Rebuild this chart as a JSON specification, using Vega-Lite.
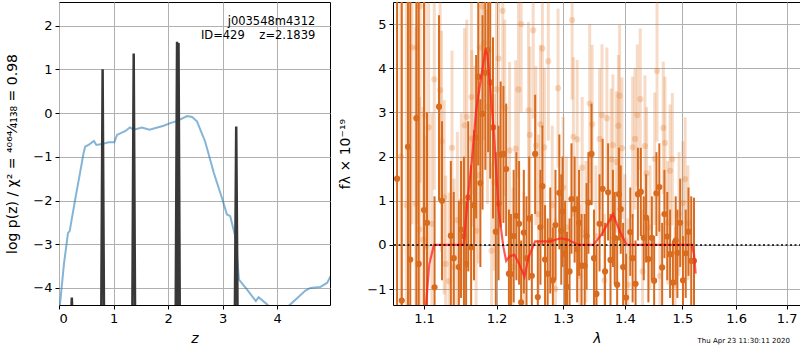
{
  "$schema": "https://vega.github.io/schema/vega-lite/v6.json",
  "padding": {"left": 5, "top": 1, "right": 0, "bottom": 0},
  "spacing": 7,
  "config": {
    "font": "DejaVu Sans",
    "view": {"stroke": "black", "strokeWidth": 1},
    "axis": {"domain": false, "grid": true, "gridColor": "#b0b0b0", "gridWidth": 1, "tickColor": "black", "tickSize": 4, "tickWidth": 1, "labelColor": "black", "labelFontSize": 13, "labelPadding": 3, "titleColor": "black", "titleFontSize": 14, "titleFontWeight": "normal"}
  },
  "datasets": {
    "chi": [
      {"z": 0.0, "v": -4.6}, {"z": 0.02, "v": -4.35}, {"z": 0.09, "v": -3.46}, {"z": 0.165, "v": -2.74}, {"z": 0.196, "v": -2.7},
      {"z": 0.3, "v": -1.95}, {"z": 0.39, "v": -1.34}, {"z": 0.45, "v": -0.92}, {"z": 0.48, "v": -0.77}, {"z": 0.55, "v": -0.72},
      {"z": 0.64, "v": -0.64}, {"z": 0.685, "v": -0.73}, {"z": 0.79, "v": -0.71}, {"z": 0.91, "v": -0.67}, {"z": 1.015, "v": -0.67},
      {"z": 1.064, "v": -0.5}, {"z": 1.22, "v": -0.41}, {"z": 1.3, "v": -0.33}, {"z": 1.37, "v": -0.38}, {"z": 1.52, "v": -0.33},
      {"z": 1.66, "v": -0.38}, {"z": 1.92, "v": -0.29}, {"z": 2.04, "v": -0.23}, {"z": 2.17, "v": -0.18}, {"z": 2.35, "v": -0.07},
      {"z": 2.44, "v": -0.09}, {"z": 2.53, "v": -0.19}, {"z": 2.68, "v": -0.65}, {"z": 2.84, "v": -1.37}, {"z": 2.99, "v": -1.95},
      {"z": 3.08, "v": -2.32}, {"z": 3.14, "v": -2.36}, {"z": 3.24, "v": -2.86}, {"z": 3.3, "v": -3.81}, {"z": 3.45, "v": -4.04},
      {"z": 3.61, "v": -4.3}, {"z": 3.66, "v": -4.21}, {"z": 3.82, "v": -4.38}, {"z": 4.0, "v": -4.65}, {"z": 4.24, "v": -4.38},
      {"z": 4.52, "v": -4.06}, {"z": 4.61, "v": -4.0}, {"z": 4.79, "v": -3.98}, {"z": 4.92, "v": -3.88}, {"z": 4.98, "v": -3.73}
    ],
    "spikes": [
      {"id": "a", "z": 0.225, "v": -4.6}, {"id": "a", "z": 0.235, "v": -4.22}, {"id": "a", "z": 0.245, "v": -4.6},
      {"id": "b", "z": 0.775, "v": -4.6}, {"id": "b", "z": 0.8, "v": 1.0}, {"id": "b", "z": 0.825, "v": -4.6},
      {"id": "c", "z": 1.345, "v": -4.6}, {"id": "c", "z": 1.37, "v": 1.36}, {"id": "c", "z": 1.395, "v": -4.6},
      {"id": "d", "z": 2.14, "v": -4.6}, {"id": "d", "z": 2.165, "v": 1.63}, {"id": "d", "z": 2.19, "v": -4.6},
      {"id": "e", "z": 2.17, "v": -4.6}, {"id": "e", "z": 2.192, "v": 1.6}, {"id": "e", "z": 2.215, "v": -4.6},
      {"id": "f", "z": 3.225, "v": -4.6}, {"id": "f", "z": 3.25, "v": -0.31}, {"id": "f", "z": 3.275, "v": -4.6}
    ],
    "ann": [
      {"z": 4.7, "v": 2.09, "t": "j003548m4312"},
      {"z": 4.7, "v": 1.77, "t": "ID=429\u00a0\u00a0\u00a0\u00a0z=2.1839"}
    ],
    "dark": [
      {"lam": 1.065, "f": 1.5, "lo": -6, "hi": 9}, {"lam": 1.071, "f": -1.26, "lo": -6, "hi": 9}, {"lam": 1.079, "f": 2.22, "lo": -6, "hi": 9},
      {"lam": 1.082, "f": -0.33, "lo": -6, "hi": 9}, {"lam": 1.09, "f": 2.87, "lo": -6, "hi": 9}, {"lam": 1.093, "f": -0.43, "lo": -4, "hi": 6},
      {"lam": 1.1, "f": 0.79, "lo": -4, "hi": 6}, {"lam": 1.104, "f": 0.5, "lo": -2, "hi": 3}, {"lam": 1.114, "f": -0.96, "lo": -2.2, "hi": 1.1},
      {"lam": 1.12, "f": 3.13, "lo": 1.0, "hi": 5.2}, {"lam": 1.124, "f": 1.0, "lo": -0.8, "hi": 2.8}, {"lam": 1.136, "f": 0.21, "lo": -1.5, "hi": 1.9},
      {"lam": 1.14, "f": -0.3, "lo": -1.8, "hi": 1.2}, {"lam": 1.147, "f": -0.5, "lo": -2.0, "hi": 1.0}, {"lam": 1.15, "f": 0.35, "lo": -1.2, "hi": 1.9},
      {"lam": 1.154, "f": 0.2, "lo": -1.4, "hi": 2.0}, {"lam": 1.157, "f": -0.43, "lo": -1.9, "hi": 1.0}, {"lam": 1.16, "f": 1.08, "lo": -0.6, "hi": 2.8},
      {"lam": 1.164, "f": -0.05, "lo": -1.9, "hi": 1.8}, {"lam": 1.168, "f": 0.9, "lo": -0.8, "hi": 2.6}, {"lam": 1.171, "f": 2.43, "lo": 0.6, "hi": 4.3},
      {"lam": 1.174, "f": 3.81, "lo": 1.8, "hi": 5.8}, {"lam": 1.177, "f": 1.4, "lo": -0.5, "hi": 3.3}, {"lam": 1.18, "f": 2.97, "lo": 0.8, "hi": 5.2},
      {"lam": 1.184, "f": 3.9, "lo": 1.7, "hi": 6.1}, {"lam": 1.188, "f": 4.41, "lo": 2.1, "hi": 6.7}, {"lam": 1.191, "f": 3.68, "lo": 1.5, "hi": 5.9},
      {"lam": 1.195, "f": 2.66, "lo": 0.6, "hi": 4.7}, {"lam": 1.199, "f": 0.3, "lo": -1.5, "hi": 2.1}, {"lam": 1.203, "f": 0.94, "lo": -0.8, "hi": 2.7},
      {"lam": 1.206, "f": 2.04, "lo": 0.4, "hi": 3.7}, {"lam": 1.21, "f": 2.06, "lo": 0.5, "hi": 3.6}, {"lam": 1.214, "f": 1.72, "lo": 0.2, "hi": 3.2},
      {"lam": 1.218, "f": -0.65, "lo": -2.1, "hi": 0.8}, {"lam": 1.221, "f": -0.66, "lo": -2.0, "hi": 0.7}, {"lam": 1.225, "f": 0.2, "lo": -1.3, "hi": 1.7},
      {"lam": 1.229, "f": 0.66, "lo": -0.8, "hi": 2.1}, {"lam": 1.233, "f": 0.48, "lo": -0.9, "hi": 1.9}, {"lam": 1.236, "f": -1.3, "lo": -2.7, "hi": 0.1},
      {"lam": 1.24, "f": 0.28, "lo": -1.1, "hi": 1.7}, {"lam": 1.244, "f": -0.3, "lo": -1.7, "hi": 1.1}, {"lam": 1.248, "f": 0.6, "lo": -0.8, "hi": 2.0},
      {"lam": 1.252, "f": -0.7, "lo": -2.1, "hi": 0.7}, {"lam": 1.257, "f": 2.06, "lo": 0.7, "hi": 3.4}, {"lam": 1.261, "f": -1.18, "lo": -2.5, "hi": 0.1},
      {"lam": 1.265, "f": 0.4, "lo": -0.9, "hi": 1.7}, {"lam": 1.268, "f": 1.33, "lo": 0.0, "hi": 2.7}, {"lam": 1.272, "f": -0.33, "lo": -1.6, "hi": 0.9},
      {"lam": 1.276, "f": -0.65, "lo": -1.9, "hi": 0.6}, {"lam": 1.28, "f": 0.1, "lo": -1.1, "hi": 1.3}, {"lam": 1.284, "f": -0.8, "lo": -2.0, "hi": 0.4},
      {"lam": 1.288, "f": 0.45, "lo": -0.8, "hi": 1.7}, {"lam": 1.294, "f": 1.18, "lo": -0.1, "hi": 2.5}, {"lam": 1.297, "f": 0.32, "lo": -0.9, "hi": 1.6},
      {"lam": 1.299, "f": 0.76, "lo": -0.5, "hi": 2.0}, {"lam": 1.303, "f": -0.2, "lo": -1.4, "hi": 1.0}, {"lam": 1.306, "f": -0.95, "lo": -2.2, "hi": 0.3},
      {"lam": 1.31, "f": -0.6, "lo": -1.8, "hi": 0.6}, {"lam": 1.313, "f": 1.04, "lo": -0.2, "hi": 2.3}, {"lam": 1.318, "f": 0.81, "lo": -0.4, "hi": 2.0},
      {"lam": 1.322, "f": -0.1, "lo": -1.3, "hi": 1.1}, {"lam": 1.325, "f": 0.5, "lo": -0.7, "hi": 1.7}, {"lam": 1.329, "f": -0.47, "lo": -1.6, "hi": 0.7},
      {"lam": 1.334, "f": -0.47, "lo": -1.6, "hi": 0.7}, {"lam": 1.337, "f": 0.2, "lo": -1.0, "hi": 1.4}, {"lam": 1.34, "f": 0.96, "lo": -0.2, "hi": 2.1},
      {"lam": 1.345, "f": 2.06, "lo": 0.9, "hi": 3.2}, {"lam": 1.349, "f": -0.3, "lo": -1.4, "hi": 0.8}, {"lam": 1.353, "f": -1.11, "lo": -2.2, "hi": 0.0},
      {"lam": 1.358, "f": 0.48, "lo": -0.6, "hi": 1.6}, {"lam": 1.363, "f": 1.27, "lo": 0.2, "hi": 2.4}, {"lam": 1.367, "f": -0.6, "lo": -1.7, "hi": 0.5},
      {"lam": 1.372, "f": 1.19, "lo": 0.1, "hi": 2.3}, {"lam": 1.376, "f": -0.34, "lo": -1.4, "hi": 0.7}, {"lam": 1.38, "f": 0.6, "lo": -0.5, "hi": 1.7},
      {"lam": 1.383, "f": 0.16, "lo": -0.9, "hi": 1.2}, {"lam": 1.387, "f": -0.9, "lo": -2.0, "hi": 0.2}, {"lam": 1.39, "f": 1.15, "lo": 0.1, "hi": 2.2},
      {"lam": 1.393, "f": 0.81, "lo": -0.2, "hi": 1.8}, {"lam": 1.397, "f": -0.5, "lo": -1.5, "hi": 0.5}, {"lam": 1.402, "f": -1.19, "lo": -2.2, "hi": -0.2},
      {"lam": 1.409, "f": 0.29, "lo": -0.7, "hi": 1.3}, {"lam": 1.413, "f": -0.3, "lo": -1.3, "hi": 0.7}, {"lam": 1.418, "f": -0.88, "lo": -1.9, "hi": 0.1},
      {"lam": 1.422, "f": 1.15, "lo": 0.1, "hi": 2.2}, {"lam": 1.427, "f": 1.2, "lo": 0.2, "hi": 2.2}, {"lam": 1.432, "f": 0.16, "lo": -0.8, "hi": 1.1},
      {"lam": 1.436, "f": 0.62, "lo": -0.4, "hi": 1.6}, {"lam": 1.44, "f": -0.32, "lo": -1.3, "hi": 0.6}, {"lam": 1.446, "f": 0.16, "lo": -0.8, "hi": 1.1},
      {"lam": 1.45, "f": -0.81, "lo": -1.8, "hi": 0.2}, {"lam": 1.454, "f": 1.17, "lo": 0.2, "hi": 2.1}, {"lam": 1.459, "f": 1.31, "lo": 0.3, "hi": 2.3},
      {"lam": 1.464, "f": -0.51, "lo": -1.5, "hi": 0.5}, {"lam": 1.468, "f": 0.7, "lo": -0.3, "hi": 1.7}, {"lam": 1.473, "f": 0.19, "lo": -0.8, "hi": 1.2},
      {"lam": 1.478, "f": -0.21, "lo": -1.2, "hi": 0.8}, {"lam": 1.483, "f": -0.85, "lo": -1.8, "hi": 0.1}, {"lam": 1.488, "f": 0.1, "lo": -0.9, "hi": 1.1},
      {"lam": 1.491, "f": -0.18, "lo": -1.2, "hi": 0.8}, {"lam": 1.496, "f": 0.5, "lo": -0.5, "hi": 1.5}, {"lam": 1.501, "f": -0.8, "lo": -1.8, "hi": 0.2},
      {"lam": 1.506, "f": -0.19, "lo": -1.2, "hi": 0.8}, {"lam": 1.511, "f": 0.3, "lo": -0.7, "hi": 1.3}, {"lam": 1.516, "f": -0.36, "lo": -1.9, "hi": 1.1},
      {"lam": 1.521, "f": -0.36, "lo": -1.5, "hi": 1.07}
    ],
    "light": [
      {"lam": 1.07, "f": 2.0, "lo": -4, "hi": 8}, {"lam": 1.077, "f": 0.9, "lo": -4.1, "hi": 5.9}, {"lam": 1.0842, "f": 4.47, "lo": 0.47, "hi": 8.47},
      {"lam": 1.0893, "f": 0.93, "lo": -3.07, "hi": 4.93}, {"lam": 1.0906, "f": 4.47, "lo": 0.47, "hi": 8.47}, {"lam": 1.094, "f": 0.35, "lo": -2.65, "hi": 3.35},
      {"lam": 1.0948, "f": 5.41, "lo": 1.41, "hi": 9.41}, {"lam": 1.0987, "f": 0.12, "lo": -2.88, "hi": 3.12}, {"lam": 1.1017, "f": 2.93, "lo": -0.07, "hi": 5.93},
      {"lam": 1.1026, "f": -0.03, "lo": -2.53, "hi": 2.47}, {"lam": 1.1061, "f": 2.66, "lo": -0.34, "hi": 5.66}, {"lam": 1.1105, "f": 0.48, "lo": -2.02, "hi": 2.98},
      {"lam": 1.1136, "f": 3.75, "lo": 1.25, "hi": 6.25}, {"lam": 1.1215, "f": 3.5, "lo": 1.0, "hi": 6.0}, {"lam": 1.1234, "f": 2.35, "lo": -0.15, "hi": 4.85},
      {"lam": 1.1269, "f": 1.08, "lo": -1.12, "hi": 3.28}, {"lam": 1.129, "f": -0.43, "lo": -2.43, "hi": 1.57}, {"lam": 1.1336, "f": -0.82, "lo": -2.82, "hi": 1.18},
      {"lam": 1.1376, "f": 2.2, "lo": 0.0, "hi": 4.4}, {"lam": 1.1403, "f": -0.5, "lo": -2.5, "hi": 1.5}, {"lam": 1.1449, "f": 0.56, "lo": -1.44, "hi": 2.56},
      {"lam": 1.1504, "f": 0.98, "lo": -1.02, "hi": 2.98}, {"lam": 1.1549, "f": 2.71, "lo": 0.51, "hi": 4.91}, {"lam": 1.158, "f": 2.9, "lo": 0.7, "hi": 5.1},
      {"lam": 1.1644, "f": 3.35, "lo": 1.15, "hi": 5.55}, {"lam": 1.165, "f": 2.41, "lo": 0.41, "hi": 4.41}, {"lam": 1.169, "f": 2.06, "lo": 0.06, "hi": 4.06},
      {"lam": 1.171, "f": 0.32, "lo": -1.68, "hi": 2.32}, {"lam": 1.174, "f": 1.58, "lo": -0.42, "hi": 3.58}, {"lam": 1.176, "f": 4.47, "lo": 2.27, "hi": 6.67},
      {"lam": 1.18, "f": 5.4, "lo": 3.0, "hi": 7.8}, {"lam": 1.182, "f": 4.57, "lo": 2.37, "hi": 6.77}, {"lam": 1.187, "f": 3.13, "lo": 0.93, "hi": 5.33},
      {"lam": 1.193, "f": -0.13, "lo": -2.13, "hi": 1.87}, {"lam": 1.197, "f": 1.42, "lo": -0.58, "hi": 3.42}, {"lam": 1.2, "f": 3.52, "lo": 1.32, "hi": 5.72},
      {"lam": 1.203, "f": 4.22, "lo": 2.02, "hi": 6.42}, {"lam": 1.209, "f": 5.3, "lo": 3.1, "hi": 7.5}, {"lam": 1.212, "f": 3.1, "lo": 1.1, "hi": 5.1},
      {"lam": 1.219, "f": 2.14, "lo": 0.14, "hi": 4.14}, {"lam": 1.224, "f": -0.5, "lo": -2.3, "hi": 1.3}, {"lam": 1.228, "f": 2.18, "lo": 0.18, "hi": 4.18},
      {"lam": 1.232, "f": 3.52, "lo": 1.52, "hi": 5.52}, {"lam": 1.236, "f": 5.0, "lo": 3.0, "hi": 7.0}, {"lam": 1.24, "f": -0.6, "lo": -2.4, "hi": 1.2},
      {"lam": 1.247, "f": 3.05, "lo": 1.05, "hi": 5.05}, {"lam": 1.249, "f": 2.49, "lo": 0.49, "hi": 4.49}, {"lam": 1.254, "f": 4.86, "lo": 2.86, "hi": 6.86},
      {"lam": 1.258, "f": 2.25, "lo": 0.45, "hi": 4.05}, {"lam": 1.262, "f": 0.7, "lo": -1.1, "hi": 2.5}, {"lam": 1.265, "f": 2.73, "lo": 0.93, "hi": 4.53},
      {"lam": 1.268, "f": 4.45, "lo": 2.65, "hi": 6.25}, {"lam": 1.271, "f": 2.21, "lo": 0.41, "hi": 4.01}, {"lam": 1.277, "f": 4.16, "lo": 2.36, "hi": 5.96},
      {"lam": 1.283, "f": 0.9, "lo": -0.9, "hi": 2.7}, {"lam": 1.288, "f": -1.0, "lo": -2.6, "hi": 0.6}, {"lam": 1.292, "f": 3.55, "lo": 1.75, "hi": 5.35},
      {"lam": 1.3, "f": 1.3, "lo": -0.3, "hi": 2.9}, {"lam": 1.305, "f": 0.4, "lo": -1.2, "hi": 2.0}, {"lam": 1.314, "f": 5.09, "lo": 3.29, "hi": 6.89},
      {"lam": 1.316, "f": 2.45, "lo": 0.65, "hi": 4.25}, {"lam": 1.322, "f": 2.39, "lo": 0.59, "hi": 4.19}, {"lam": 1.326, "f": -0.7, "lo": -2.3, "hi": 0.9},
      {"lam": 1.33, "f": 1.75, "lo": 0.15, "hi": 3.35}, {"lam": 1.336, "f": 0.3, "lo": -1.3, "hi": 1.9}, {"lam": 1.342, "f": 3.2, "lo": 1.4, "hi": 5.0},
      {"lam": 1.346, "f": 2.73, "lo": 0.93, "hi": 4.53}, {"lam": 1.352, "f": 0.2, "lo": -1.4, "hi": 1.8}, {"lam": 1.358, "f": 2.4, "lo": 0.8, "hi": 4.0},
      {"lam": 1.362, "f": 2.94, "lo": 1.34, "hi": 4.54}, {"lam": 1.366, "f": -0.8, "lo": -2.3, "hi": 0.7}, {"lam": 1.37, "f": 2.87, "lo": 1.27, "hi": 4.47},
      {"lam": 1.377, "f": 1.94, "lo": 0.34, "hi": 3.54}, {"lam": 1.38, "f": 2.26, "lo": 0.66, "hi": 3.86}, {"lam": 1.386, "f": 1.88, "lo": 0.28, "hi": 3.48},
      {"lam": 1.389, "f": 2.7, "lo": 1.1, "hi": 4.3}, {"lam": 1.391, "f": 3.38, "lo": 1.78, "hi": 4.98}, {"lam": 1.395, "f": 2.19, "lo": 0.59, "hi": 3.79},
      {"lam": 1.4, "f": 0.1, "lo": -1.4, "hi": 1.6}, {"lam": 1.405, "f": -0.9, "lo": -2.4, "hi": 0.6}, {"lam": 1.413, "f": 2.21, "lo": 0.61, "hi": 3.81},
      {"lam": 1.417, "f": 2.4, "lo": 0.8, "hi": 4.0}, {"lam": 1.421, "f": 2.94, "lo": 1.34, "hi": 4.54}, {"lam": 1.426, "f": 3.3, "lo": 1.7, "hi": 4.9},
      {"lam": 1.43, "f": -0.6, "lo": -2.0, "hi": 0.8}, {"lam": 1.434, "f": 2.24, "lo": 0.64, "hi": 3.84}, {"lam": 1.437, "f": 1.62, "lo": 0.12, "hi": 3.12},
      {"lam": 1.443, "f": 0.4, "lo": -1.0, "hi": 1.8}, {"lam": 1.451, "f": 1.95, "lo": 0.45, "hi": 3.45}, {"lam": 1.455, "f": 3.94, "lo": 2.34, "hi": 5.54},
      {"lam": 1.46, "f": -0.7, "lo": -2.1, "hi": 0.7}, {"lam": 1.466, "f": 2.65, "lo": 1.15, "hi": 4.15}, {"lam": 1.469, "f": 2.31, "lo": 0.81, "hi": 3.81},
      {"lam": 1.474, "f": 0.5, "lo": -0.9, "hi": 1.9}, {"lam": 1.478, "f": 1.68, "lo": 0.18, "hi": 3.18}, {"lam": 1.482, "f": 1.94, "lo": 0.44, "hi": 3.44},
      {"lam": 1.487, "f": -0.9, "lo": -2.2, "hi": 0.4}, {"lam": 1.494, "f": 0.7, "lo": -0.7, "hi": 2.1}, {"lam": 1.501, "f": 0.95, "lo": -0.45, "hi": 2.35},
      {"lam": 1.505, "f": 1.49, "lo": 0.09, "hi": 2.89}, {"lam": 1.51, "f": 0.5, "lo": -0.8, "hi": 1.8}
    ],
    "model": [
      {"lam": 1.1015, "f": -1.6}, {"lam": 1.107, "f": -0.43}, {"lam": 1.1132, "f": 0.0}, {"lam": 1.1535, "f": 0.0}, {"lam": 1.159, "f": 1.0},
      {"lam": 1.165, "f": 1.91}, {"lam": 1.171, "f": 3.04}, {"lam": 1.178, "f": 3.79}, {"lam": 1.184, "f": 4.4}, {"lam": 1.187, "f": 4.3},
      {"lam": 1.191, "f": 3.57}, {"lam": 1.197, "f": 2.36}, {"lam": 1.203, "f": 0.78}, {"lam": 1.21, "f": -0.05}, {"lam": 1.214, "f": -0.36},
      {"lam": 1.219, "f": -0.26}, {"lam": 1.226, "f": -0.22}, {"lam": 1.233, "f": -0.43}, {"lam": 1.241, "f": -0.72}, {"lam": 1.247, "f": -0.28},
      {"lam": 1.257, "f": 0.08}, {"lam": 1.265, "f": 0.08}, {"lam": 1.2798, "f": 0.08}, {"lam": 1.296, "f": 0.15}, {"lam": 1.307, "f": 0.12},
      {"lam": 1.324, "f": 0.0}, {"lam": 1.348, "f": 0.0}, {"lam": 1.362, "f": 0.25}, {"lam": 1.38, "f": 0.7}, {"lam": 1.391, "f": 0.32},
      {"lam": 1.402, "f": 0.02}, {"lam": 1.407, "f": 0.0}, {"lam": 1.517, "f": 0.0}, {"lam": 1.521, "f": -0.2}, {"lam": 1.524, "f": -0.65}
    ],
    "stamp": [{"lam": 1.6146, "f": -1.36, "t": "Thu Apr 23 11:30:11 2020"}]
  },
  "hconcat": [
    {
      "width": 271,
      "height": 303,
      "layer": [
        {
          "data": {"name": "chi"},
          "mark": {"type": "line", "clip": true, "color": "#1f77b4", "opacity": 0.55, "strokeWidth": 2},
          "encoding": {
            "x": {"field": "z", "type": "quantitative", "scale": {"domain": [0, 4.97], "nice": false, "zero": false}, "axis": {"values": [0, 1, 2, 3, 4], "title": "z", "titleFontStyle": "italic", "titlePadding": 6}},
            "y": {"field": "v", "type": "quantitative", "scale": {"domain": [-4.39, 2.54], "nice": false, "zero": false}, "axis": {"values": [-4, -3, -2, -1, 0, 1, 2], "title": "log p(z) / χ² = ⁴⁰⁶⁴⁄₄₁₃₈ = 0.98", "titlePadding": 13}}
          }
        },
        {
          "data": {"name": "spikes"},
          "mark": {"type": "line", "clip": true, "color": "#383838", "strokeWidth": 2.5},
          "encoding": {
            "x": {"field": "z", "type": "quantitative", "title": "z"},
            "y": {"field": "v", "type": "quantitative", "title": "log p(z) / χ² = ⁴⁰⁶⁴⁄₄₁₃₈ = 0.98"},
            "detail": {"field": "id"}
          }
        },
        {
          "data": {"name": "ann"},
          "mark": {"type": "text", "align": "right", "baseline": "middle", "fontSize": 11.5, "color": "black"},
          "encoding": {
            "x": {"field": "z", "type": "quantitative", "title": "z"},
            "y": {"field": "v", "type": "quantitative", "title": "log p(z) / χ² = ⁴⁰⁶⁴⁄₄₁₃₈ = 0.98"},
            "text": {"field": "t"}
          }
        }
      ]
    },
    {
      "width": 408,
      "height": 303,
      "layer": [
        {
          "data": {"name": "light"},
          "mark": {"type": "rule", "clip": true, "color": "#e0701c", "opacity": 0.25, "strokeWidth": 3},
          "encoding": {
            "x": {"field": "lam", "type": "quantitative", "scale": {"type": "log", "domain": [1.0598, 1.7295], "nice": false}, "axis": {"values": [1.1, 1.2, 1.3, 1.4, 1.5, 1.6, 1.7], "format": ".1f", "title": "λ", "titleFontStyle": "italic", "titlePadding": 6}},
            "y": {"field": "lo", "type": "quantitative", "scale": {"domain": [-1.36, 5.5], "nice": false, "zero": false}, "axis": {"values": [-1, 0, 1, 2, 3, 4, 5], "title": "fλ × 10⁻¹⁹", "titlePadding": 14}},
            "y2": {"field": "hi"}
          }
        },
        {
          "data": {"name": "light"},
          "mark": {"type": "point", "clip": true, "filled": true, "color": "#e0701c", "opacity": 0.25, "size": 38},
          "encoding": {
            "x": {"field": "lam", "type": "quantitative", "title": "λ"},
            "y": {"field": "f", "type": "quantitative", "title": "fλ × 10⁻¹⁹"}
          }
        },
        {
          "data": {"name": "dark"},
          "mark": {"type": "rule", "clip": true, "color": "#d86b1e", "strokeWidth": 2},
          "encoding": {
            "x": {"field": "lam", "type": "quantitative", "title": "λ"},
            "y": {"field": "lo", "type": "quantitative", "title": "fλ × 10⁻¹⁹"},
            "y2": {"field": "hi"}
          }
        },
        {
          "data": {"name": "dark"},
          "mark": {"type": "point", "clip": true, "filled": true, "color": "#d86b1e", "opacity": 1, "size": 38},
          "encoding": {
            "x": {"field": "lam", "type": "quantitative", "title": "λ"},
            "y": {"field": "f", "type": "quantitative", "title": "fλ × 10⁻¹⁹"}
          }
        },
        {
          "data": {"name": "model"},
          "mark": {"type": "line", "clip": true, "color": "#ff2020", "opacity": 0.75, "strokeWidth": 2.2},
          "encoding": {
            "x": {"field": "lam", "type": "quantitative", "title": "λ"},
            "y": {"field": "f", "type": "quantitative", "title": "fλ × 10⁻¹⁹"}
          }
        },
        {
          "data": {"values": [{}]},
          "mark": {"type": "rule", "color": "black", "strokeWidth": 1.6, "strokeDash": [2, 2.5]},
          "encoding": {"y": {"datum": 0}}
        },
        {
          "data": {"name": "stamp"},
          "mark": {"type": "text", "fontSize": 7, "color": "black", "baseline": "middle", "dy": 36},
          "encoding": {
            "x": {"field": "lam", "type": "quantitative", "title": "λ"},
            "y": {"field": "f", "type": "quantitative", "title": "fλ × 10⁻¹⁹"},
            "text": {"field": "t"}
          }
        }
      ]
    }
  ]
}
